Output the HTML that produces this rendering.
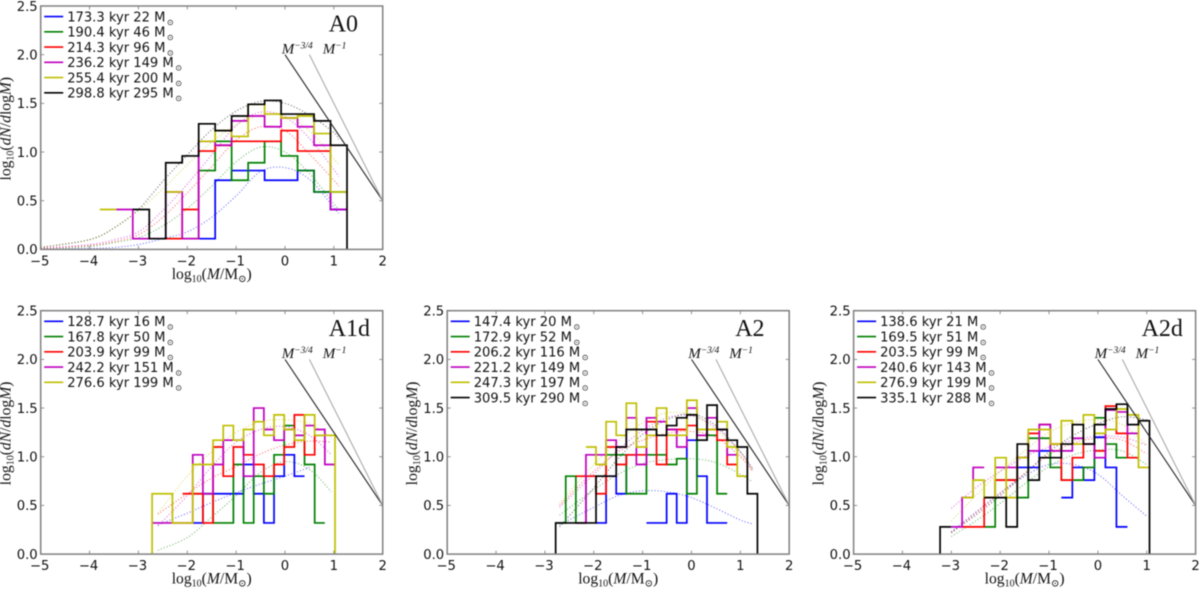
<!DOCTYPE html>
<html>
<head>
<meta charset="utf-8">
<title>Mass functions</title>
<style>
html,body{margin:0;padding:0;background:#fff;width:1200px;height:589px;overflow:hidden}
svg{display:block;filter:blur(0.4px)}
text{fill:#111;font-family:"DejaVu Sans","Liberation Sans",sans-serif}
.serif{font-family:"Liberation Serif","DejaVu Serif",serif}
</style>
</head>
<body>
<svg id="figure" xmlns="http://www.w3.org/2000/svg" width="1200" height="589" viewBox="0 0 1200 589"></svg>
<script>
const n = null;
const xTicks = [-5,-4,-3,-2,-1,0,1,2];
const yTicks = [0,0.5,1,1.5,2,2.5];
const xTickLabels = ['\u22125','\u22124','\u22123','\u22122','\u22121','0','1','2'];
const yTickLabels = ['0.0','0.5','1.0','1.5','2.0','2.5'];
const seriesNames = ['blue','green','red','magenta','yellow','black'];

/* A0 */
const a0Legend = ['173.3 kyr 22 M','190.4 kyr 46 M','214.3 kyr 96 M','236.2 kyr 149 M','255.4 kyr 200 M','298.8 kyr 295 M'];
const a0BinStart = -3.79;
const a0BinWidth = 0.3373;
const a0Blue = [n,n,n,n,n,n,.11,.71,.81,.81,.71,.71,.81,.59,.41];
const a0Green = [n,n,n,n,.11,.11,.81,1.11,.71,.89,1.11,.96,.81,.59,.59];
const a0Red = [n,n,n,n,.11,.41,1.01,1.07,1.11,1.11,1.11,1.22,1.01,1.01];
const a0Magenta = [n,.41,.11,.11,.59,.11,1.11,1.07,1.32,1.37,1.26,1.35,1.26,1.07,.41];
const a0Yellow = [.41,n,n,n,.59,n,1.11,1.22,1.16,1.49,1.39,1.35,1.37,1.19,.59];
const a0Black = [n,n,.41,.11,.89,.96,1.29,1.22,1.37,1.49,1.53,1.39,1.39,1.32,1.07,0];
const a0FitX = [-5,-4,-3.5,-3,-2.5,-2,-1.5,-1,-.5,0,.5,1,1.1];
const a0FitBlue = [0,.01,.02,.05,.11,.18,.33,.55,.8,.84,.72,.43,.37];
const a0FitGreen = [0,.03,.07,.12,.24,.42,.65,.9,1.05,1,.78,.47,.41];
const a0FitRed = [.01,.04,.08,.15,.33,.58,.85,1.12,1.26,1.22,.98,.71,.65];
const a0FitMagenta = [.01,.05,.1,.18,.4,.67,.97,1.27,1.41,1.36,1.14,.82,.75];
const a0FitYellow = [.02,.1,.22,.4,.62,.87,1.1,1.28,1.38,1.37,1.22,.93,.87];
const a0FitBlack = [.02,.1,.22,.41,.7,.97,1.23,1.42,1.52,1.5,1.38,1.2,1.13];

/* A1d */
const a1dLegend = ['128.7 kyr 16 M','167.8 kyr 50 M','203.9 kyr 99 M','242.2 kyr 151 M','276.6 kyr 199 M'];
const a1dBinStart = -2.928;
const a1dBinWidth = 0.208;
const a1dBlue = [n,n,n,n,n,.32,.62,.62,.62,.62,.92,.62,.32,.8,1.02,.8];
const a1dGreen = [n,n,n,n,n,.62,.62,.32,.32,.92,.32,.8,.62,1.02,1.32,1.22,.92,.32];
const a1dRed = [n,n,n,n,.62,.62,.32,1.1,.8,1.1,1.02,.92,.8,.92,1.1,1.43,1.02,1.22];
const a1dMagenta = [n,.32,.32,.32,.32,1.02,.62,.92,1.17,1.17,.8,1.5,1.28,1.17,1.28,1.22,1.32,1.28,.92];
const a1dYellow = [0,.62,.62,.32,.32,.92,.92,1.17,1.32,1.17,1.28,1.36,1.22,1.43,1.28,1.17,1.43,1.22,1.22,0];
const a1dFitX = [-2.6,-2,-1.5,-1,-.5,0,.5,.95];
const a1dFitBlue = [.3,.42,.53,.63,.72,.8,.89,n];
const a1dFitGreen = [.04,.17,.38,.6,.84,.95,.87,.64];
const a1dFitRed = [.41,.62,.78,.9,1.03,1.12,1.16,1.15];
const a1dFitMagenta = [.29,.6,.9,1.15,1.28,1.31,1.22,1.02];
const a1dFitYellow = [.42,.8,1.05,1.25,1.36,1.38,1.34,1.2];

/* A2 */
const a2Legend = ['147.4 kyr 20 M','172.9 kyr 52 M','206.2 kyr 116 M','221.2 kyr 149 M','247.3 kyr 197 M','309.5 kyr 290 M'];
const a2BinStart = -2.9865;
const a2BinWidth = 0.2065;
const a2Blue = [n,n,n,n,n,.32,.8,.62,1.02,n,.32,.32,.62,.32,1.17,.8,.32,.32];
const a2Green = [n,.32,.8,.32,.8,.8,1.02,1.02,.62,.62,1.02,1.02,.92,.98,.62,1.17,1.22,.62];
const a2Red = [n,n,n,.8,.8,.62,1.1,.92,1.02,1.02,1.36,.92,1.28,1.28,1.32,1.22,1.28,1.17,.92];
const a2Magenta = [n,n,n,.32,1.02,1.02,1.17,1.1,1.4,.92,1.4,1.36,1.28,1.1,1.5,1.22,1.4,1.28,1.02];
const a2Yellow = [n,n,n,n,1.1,.92,1.36,1.22,1.55,1.1,1.22,1.5,1.22,1.22,1.58,1.28,1.28,1.36,1.1,.8];
const a2Black = [0,.32,.32,.32,.32,.8,.8,1.1,1.28,1.28,1.28,1.22,1.32,1.4,1.43,1.17,1.53,1.28,1.17,1.1,.62,0];
const a2FitX = [-2.7,-2,-1.5,-1,-.5,0,.5,1,1.25];
const a2FitBlue = [.3,.48,.6,.65,.64,.58,.47,.35,.31];
const a2FitGreen = [.4,.66,.82,.93,.97,.98,.94,.82,.74];
const a2FitRed = [.5,.85,1.05,1.17,1.24,1.26,1.2,1,.85];
const a2FitMagenta = [.48,.82,1.07,1.27,1.4,1.42,1.3,1.05,.87];
const a2FitYellow = [.52,.92,1.16,1.35,1.45,1.43,1.28,1.02,.85];
const a2FitBlack = [.28,.68,.98,1.23,1.38,1.44,1.32,1.05,.88];

/* A2d */
const a2dLegend = ['138.6 kyr 21 M','169.5 kyr 51 M','203.5 kyr 99 M','240.6 kyr 143 M','276.9 kyr 199 M','335.1 kyr 288 M'];
const a2dBinStart = -3.4556;
const a2dBinWidth = 0.2256;
const a2dBlue = [n,n,n,n,n,n,n,.76,.89,.89,1.06,n,.58,.89,.76,1.2,.89,.28];
const a2dGreen = [n,n,n,n,n,.28,.76,.76,.58,1.19,1.19,.89,.76,.76,.89,1.4,1.13,.99];
const a2dRed = [n,n,n,.28,.28,.58,.76,.76,.99,1.24,1.33,1.13,.76,.99,1.13,1.06,1.52,1.24,.99];
const a2dMagenta = [n,n,.28,.58,.89,n,.89,.89,.99,1.06,1.33,1.06,1.06,1.19,1.13,.99,1.48,1.46,1.24];
const a2dYellow = [n,n,n,.58,.76,.58,.99,.58,.99,1.28,1.28,1.13,1.37,1.13,1.43,1.24,1.28,1.49,1.43,.89];
const a2dBlack = [0,.28,n,n,n,.58,.58,.28,1.13,.76,.99,.99,1.13,1.33,1.13,1.33,1.49,1.54,1.33,1.37,0];
const a2dFitX = [-3,-2.5,-2,-1.5,-1,-.5,0,.5,1];
const a2dFitBlue = [.23,.43,.63,.8,.92,.92,.82,.6,.39];
const a2dFitGreen = [.18,.34,.52,.72,.9,1.02,1.07,1.06,.92];
const a2dFitRed = [.22,.42,.62,.83,1.02,1.14,1.19,1.17,1.03];
const a2dFitMagenta = [.47,.68,.85,1,1.1,1.17,1.21,1.2,1.12];
const a2dFitYellow = [.34,.6,.85,1.06,1.25,1.35,1.38,1.33,1.12];
const a2dFitBlack = [.22,.4,.6,.82,1.05,1.22,1.34,1.41,1.38];

const powerLawX34 = [0,2];
const powerLawY34 = [2,0.5];
const powerLawX1 = [0.5,2];
const powerLawY1 = [2,0.5];

const colors = {blue:'#0000ff',green:'#008000',red:'#ff0000',magenta:'#bf00bf',yellow:'#bfbf00',black:'#000000'};
const NS = 'http://www.w3.org/2000/svg';
const fig = document.getElementById('figure');

function mk(tag, attrs, parent){
  const el = document.createElementNS(NS, tag);
  for (const k in attrs) el.setAttribute(k, attrs[k]);
  (parent || fig).appendChild(el);
  return el;
}
function span(parent, txt, attrs){
  const t = mk('tspan', attrs || {}, parent);
  t.textContent = txt;
  return t;
}
function stepPath(vals, start, width, xs, ys){
  let d = '', down = false, fromZero = false;
  for (let i = 0; i < vals.length; i++){
    const v = vals[i];
    const x0 = xs(start + i * width), x1 = xs(start + (i + 1) * width);
    if (v === null || v === undefined){ down = false; fromZero = false; continue; }
    if (v === 0){
      if (down) d += 'L' + x0.toFixed(2) + ' ' + ys(0).toFixed(2);
      down = false; fromZero = (i === 0);
      continue;
    }
    if (down){
      d += 'L' + x0.toFixed(2) + ' ' + ys(v).toFixed(2);
    } else if (fromZero){
      d += 'M' + x0.toFixed(2) + ' ' + ys(0).toFixed(2) + 'L' + x0.toFixed(2) + ' ' + ys(v).toFixed(2);
    } else {
      d += 'M' + x0.toFixed(2) + ' ' + ys(v).toFixed(2);
    }
    d += 'L' + x1.toFixed(2) + ' ' + ys(v).toFixed(2);
    down = true; fromZero = false;
  }
  return d;
}
function smoothPath(xv, yv, xs, ys){
  const p = [];
  for (let i = 0; i < xv.length; i++) if (yv[i] !== null && yv[i] !== undefined) p.push([xs(xv[i]), ys(yv[i])]);
  let d = 'M' + p[0][0].toFixed(2) + ' ' + p[0][1].toFixed(2);
  for (let i = 0; i < p.length - 1; i++){
    const a = p[Math.max(i-1,0)], b = p[i], c = p[i+1], e = p[Math.min(i+2,p.length-1)];
    const c1x = b[0] + (c[0]-a[0])/6, c1y = b[1] + (c[1]-a[1])/6;
    const c2x = c[0] - (e[0]-b[0])/6, c2y = c[1] - (e[1]-b[1])/6;
    d += 'C' + c1x.toFixed(2) + ' ' + c1y.toFixed(2) + ' ' + c2x.toFixed(2) + ' ' + c2y.toFixed(2) + ' ' + c[0].toFixed(2) + ' ' + c[1].toFixed(2);
  }
  return d;
}

function drawPanel(cfg){
  const L = cfg.left, T = cfg.top, W = cfg.width, H = cfg.height;
  const xs = v => L + (v + 5) / 7 * W;
  const ys = v => T + H - v / 2.5 * H;
  const g = mk('g', {});
  
  

  const clipId = 'clip-' + cfg.id;
  const cp = mk('clipPath', {id: clipId}, g);
  mk('rect', {x: L, y: T, width: W, height: H}, cp);
  const plot = mk('g', {'clip-path': 'url(#' + clipId + ')'}, g);
  
  

  cfg.fits.forEach(function(f, i){
    const c = mk('path', {d: smoothPath(cfg.fitX, f, xs, ys), fill: 'none', stroke: colors[seriesNames[i]], 'stroke-width': 1.1, 'stroke-dasharray': '1.1 2', opacity: 0.55}, plot);
    
    
  });
  cfg.hists.forEach(function(h, i){
    const s = mk('path', {d: stepPath(h, cfg.binStart, cfg.binWidth, xs, ys), fill: 'none', stroke: colors[seriesNames[i]], 'stroke-width': 1.7, 'stroke-linejoin': 'miter'}, plot);
    
    
  });

  const l34 = mk('line', {x1: xs(powerLawX34[0]), y1: ys(powerLawY34[0]), x2: xs(powerLawX34[1]), y2: ys(powerLawY34[1]), stroke: '#222', 'stroke-width': 1.1}, g);
  
  
  const l1 = mk('line', {x1: xs(powerLawX1[0]), y1: ys(powerLawY1[0]), x2: xs(powerLawX1[1]), y2: ys(powerLawY1[1]), stroke: '#aaa', 'stroke-width': 1.1}, g);
  
  

  const t34 = mk('text', {x: L + 241, y: T + 47.5, 'class': 'serif', 'font-size': 15, 'font-style': 'italic'}, g);
  
  
  span(t34, 'M');
  span(t34, '\u22123/4', {'font-size': 9.5, dy: -5});
  const t1 = mk('text', {x: L + 282, y: T + 47.5, 'class': 'serif', 'font-size': 15, 'font-style': 'italic'}, g);
  
  
  span(t1, 'M');
  span(t1, '\u22121', {'font-size': 9.5, dy: -5});

  const title = mk('text', {x: L + 288, y: T + 25.5, 'class': 'serif', 'font-size': 24}, g);
  
  
  title.textContent = cfg.id === 'a0' ? 'A0' : cfg.id === 'a1d' ? 'A1d' : cfg.id === 'a2' ? 'A2' : 'A2d';

  xTicks.forEach(function(v, i){
    const x = xs(v);
    const t1a = mk('line', {x1: x, y1: T + H, x2: x, y2: T + H - 3.5, stroke: '#777', 'stroke-width': 0.8}, g);
    
    
    const t1b = mk('line', {x1: x, y1: T, x2: x, y2: T + 3.5, stroke: '#777', 'stroke-width': 0.8}, g);
    
    
    const lab = mk('text', {x: v < 0 ? x - 1 : x, y: T + H + 16, 'font-size': 13.2, 'text-anchor': 'middle'}, g);
    
    
    lab.textContent = xTickLabels[i];
  });
  yTicks.forEach(function(v, i){
    const y = ys(v);
    const t2a = mk('line', {x1: L, y1: y, x2: L + 3.5, y2: y, stroke: '#777', 'stroke-width': 0.8}, g);
    
    
    const t2b = mk('line', {x1: L + W, y1: y, x2: L + W - 3.5, y2: y, stroke: '#777', 'stroke-width': 0.8}, g);
    
    
    const lab = mk('text', {x: L - 3, y: y + 4.8, 'font-size': 13.2, 'text-anchor': 'end'}, g);
    
    
    lab.textContent = yTickLabels[i];
  });

  const frame = mk('rect', {x: L, y: T, width: W, height: H, fill: 'none', stroke: '#808080', 'stroke-width': 1.5}, g);
  
  

  cfg.legend.forEach(function(txt, i){
    const y = T + 10.6 + i * 15.25;
    const item = mk('g', {}, g);
    
    
    mk('line', {x1: L + 3.5, y1: y, x2: L + 22.5, y2: y, stroke: colors[seriesNames[i]], 'stroke-width': 1.6}, item);
    const t = mk('text', {x: L + 26.5, y: y + 4.7, 'font-size': 13.1}, item);
    span(t, txt);
    span(t, '\u2299', {'font-size': 8, dy: 3.5, dx: 1.5});
  });

  const xl = mk('text', {x: L + W * 0.5, y: T + H + 29.5, 'class': 'serif', 'font-size': 15.6, 'text-anchor': 'middle'}, g);
  
  
  span(xl, 'log');
  span(xl, '10', {'font-size': 10, dy: 3});
  span(xl, '(', {dy: -3});
  span(xl, 'M', {'font-style': 'italic'});
  span(xl, '/M');
  span(xl, '\u2299', {'font-size': 10, dy: 3});
  span(xl, ')', {dy: -3});

  const yc = T + H / 2 + 1;
  const yl = mk('text', {transform: 'translate(' + (L - 30) + ' ' + yc + ') rotate(-90)', 'class': 'serif', 'font-size': 15.6, 'text-anchor': 'middle'}, g);
  
  
  span(yl, 'log');
  span(yl, '10', {'font-size': 10, dy: 3});
  span(yl, '(', {dy: -3});
  span(yl, 'dN', {'font-style': 'italic'});
  span(yl, '/');
  span(yl, 'd', {'font-style': 'italic'});
  span(yl, 'log');
  span(yl, 'M', {'font-style': 'italic'});
  span(yl, ')');
}

drawPanel({id:'a0', left:40.7, top:6, width:342, height:243.4, legend:a0Legend, binStart:a0BinStart, binWidth:a0BinWidth,
  hists:[a0Blue,a0Green,a0Red,a0Magenta,a0Yellow,a0Black], fitX:a0FitX,
  fits:[a0FitBlue,a0FitGreen,a0FitRed,a0FitMagenta,a0FitYellow,a0FitBlack]});
drawPanel({id:'a1d', left:40.7, top:310.7, width:342, height:243.4, legend:a1dLegend, binStart:a1dBinStart, binWidth:a1dBinWidth,
  hists:[a1dBlue,a1dGreen,a1dRed,a1dMagenta,a1dYellow], fitX:a1dFitX,
  fits:[a1dFitBlue,a1dFitGreen,a1dFitRed,a1dFitMagenta,a1dFitYellow]});
drawPanel({id:'a2', left:447.2, top:310.7, width:342, height:243.4, legend:a2Legend, binStart:a2BinStart, binWidth:a2BinWidth,
  hists:[a2Blue,a2Green,a2Red,a2Magenta,a2Yellow,a2Black], fitX:a2FitX,
  fits:[a2FitBlue,a2FitGreen,a2FitRed,a2FitMagenta,a2FitYellow,a2FitBlack]});
drawPanel({id:'a2d', left:853.6, top:310.7, width:342, height:243.4, legend:a2dLegend, binStart:a2dBinStart, binWidth:a2dBinWidth,
  hists:[a2dBlue,a2dGreen,a2dRed,a2dMagenta,a2dYellow,a2dBlack], fitX:a2dFitX,
  fits:[a2dFitBlue,a2dFitGreen,a2dFitRed,a2dFitMagenta,a2dFitYellow,a2dFitBlack]});
</script>
</body>
</html>
